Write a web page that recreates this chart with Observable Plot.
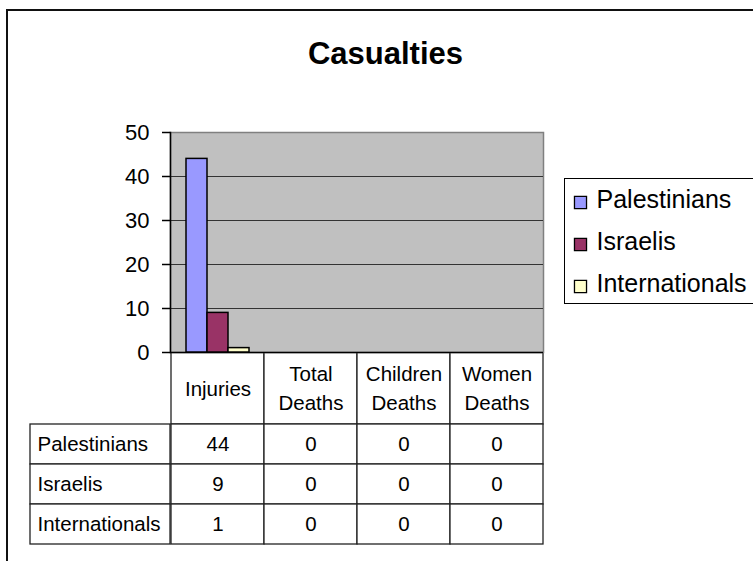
<!DOCTYPE html>
<html>
<head>
<meta charset="utf-8">
<script src="https://cdn.jsdelivr.net/npm/d3@7"></script>
<script src="https://cdn.jsdelivr.net/npm/@observablehq/plot@0.6"></script>
<style>
  html, body { margin: 0; padding: 0; background: #fff; }
  #chart { position: relative; width: 753px; height: 561px; overflow: hidden; background: #fff; color: #000;
           font-family: "Liberation Sans", Arial, sans-serif; }
  #chart svg { position: absolute; }
  .frame { position: absolute; left: 6px; top: 9px; width: 900px; height: 900px; border: 2px solid #111; box-sizing: border-box; }
  .title { position: absolute; left: 0; top: 38px; width: 771px; text-align: center; font-weight: bold; font-size: 31px; line-height: 31px; }
  .legend { position: absolute; left: 564px; top: 178px; width: 260px; height: 126px; border: 1.3px solid #000; box-sizing: border-box; }
</style>
</head>
<body>
<div id="chart"></div>
<script>
// ---- data ----
const categories = ["Injuries", "Total Deaths", "Children Deaths", "Women Deaths"];
const headerLabels = ["Injuries", "Total\nDeaths", "Children\nDeaths", "Women\nDeaths"];
const series = ["Palestinians", "Israelis", "Internationals"];
const palestinians = [44, 0, 0, 0];
const israelis = [9, 0, 0, 0];
const internationals = [1, 0, 0, 0];
const yTicks = [0, 10, 20, 30, 40, 50];
const seriesColors = ["#9999ff", "#993366", "#ffffcc"];
const chartTitle = "Casualties";

// ---- tidy table ----
const valuesBySeries = [palestinians, israelis, internationals];
const data = series.flatMap((s, i) => categories.map((c, j) => ({series: s, category: c, value: valuesBySeries[i][j]})));
const header = categories.map((c, j) => ({category: c, label: headerLabels[j]}));
const yDomain = [yTicks[0], yTicks[yTicks.length - 1]];
const gridTicks = yTicks.slice(1, -1);

const font = "'Liberation Sans', Arial, sans-serif";
const baseStyle = {background: "transparent", overflow: "visible", maxWidth: "none", fontFamily: font, color: "#000"};
const colorScale = {domain: series, range: seriesColors};
const W = 753, ML = 170, MR = 210;

const root = document.getElementById("chart");
const frameDiv = document.createElement("div");
frameDiv.className = "frame";
root.appendChild(frameDiv);

const titleDiv = document.createElement("div");
titleDiv.className = "title";
titleDiv.textContent = chartTitle;
root.appendChild(titleDiv);

function place(el, left, top, parent = root) {
  el.style.left = left + "px";
  el.style.top = top + "px";
  parent.appendChild(el);
}

// table header (drawn first so the plot's zero line lies over its top edge)
const thead = Plot.plot({
  width: W, height: 72, marginTop: 0, marginBottom: 0, marginLeft: ML, marginRight: MR,
  x: {type: "band", domain: categories, padding: 0, axis: null},
  style: baseStyle,
  marks: [
    Plot.cell(header, {x: "category", fill: "white", stroke: "#222", strokeWidth: 1.3}),
    Plot.text(header, {x: "category", text: "label", fontSize: 20.5, lineHeight: 1.42, dy: -2, fill: "#000"})
  ]
});
place(thead, 0, 352);

// plot background, grid, axis
const back = Plot.plot({
  width: W, height: 362, marginTop: 132, marginBottom: 10, marginLeft: ML, marginRight: MR,
  y: {domain: yDomain},
  style: baseStyle,
  marks: [
    Plot.frame({fill: "#c0c0c0", stroke: "#808080", strokeWidth: 1.5}),
    Plot.gridY(gridTicks, {stroke: "#333", strokeOpacity: 1, strokeWidth: 1}),
    Plot.frame({anchor: "left", stroke: "#000", strokeWidth: 1.5}),
    Plot.ruleY([0], {stroke: "#000", strokeWidth: 1.5}),
    Plot.axisY(yTicks, {tickSize: 8, tickPadding: 13, fontSize: 22, strokeWidth: 1.5, label: null})
  ]
});
place(back, 0, 0);

// bars
const bars = Plot.plot({
  width: W, height: 362, marginTop: 132, marginBottom: 10, marginLeft: ML, marginRight: MR,
  fx: {domain: categories, padding: 0, axis: null, label: null},
  x: {domain: series, paddingInner: 0, paddingOuter: 0.686, axis: null},
  y: {domain: yDomain, axis: null},
  color: colorScale,
  style: baseStyle,
  marks: [
    Plot.barY(data, {filter: d => d.value > 0, fx: "category", x: "series", y: "value", fill: "series", stroke: "#000", strokeWidth: 1.5})
  ]
});
place(bars, 0, 0);

// table body
const tbody = Plot.plot({
  width: W, height: 120, marginTop: 0, marginBottom: 0, marginLeft: ML, marginRight: MR,
  x: {type: "band", domain: categories, padding: 0, axis: null},
  y: {type: "band", domain: series, padding: 0, axis: null},
  style: baseStyle,
  marks: [
    Plot.cell(data, {x: "category", y: "series", fill: "white", stroke: "#222", strokeWidth: 1.3}),
    Plot.text(data, {x: "category", y: "series", text: d => String(d.value), fontSize: 20.5, fill: "#000"})
  ]
});
place(tbody, 0, 424);

// row labels
const rowLabels = Plot.plot({
  width: ML - 30, height: 120, marginTop: 0, marginBottom: 0, marginLeft: 0, marginRight: 0,
  y: {type: "band", domain: series, padding: 0, axis: null},
  style: baseStyle,
  marks: [
    Plot.cell(series, {y: d => d, fill: "white", stroke: "#222", strokeWidth: 1.3}),
    Plot.text(series, {y: d => d, frameAnchor: "left", dx: 7, textAnchor: "start", fontSize: 20.5, fill: "#000"})
  ]
});
place(rowLabels, 30, 424);

// legend
const legendBox = document.createElement("div");
legendBox.className = "legend";
root.appendChild(legendBox);
const legend = Plot.plot({
  width: 220, height: 126, marginTop: 3, marginBottom: -3, marginLeft: 0, marginRight: 0,
  y: {type: "band", domain: series, padding: 0, axis: null},
  color: colorScale,
  style: baseStyle,
  marks: [
    Plot.dot(series, {y: d => d, frameAnchor: "left", dx: 16, symbol: "square", r: 6.8, fill: d => d, stroke: "#000", strokeWidth: 1.3}),
    Plot.text(series, {y: d => d, frameAnchor: "left", dx: 32, dy: -3, textAnchor: "start", fontSize: 25, fill: "#000"})
  ]
});
place(legend, -1, -1, legendBox);
</script>
</body>
</html>
